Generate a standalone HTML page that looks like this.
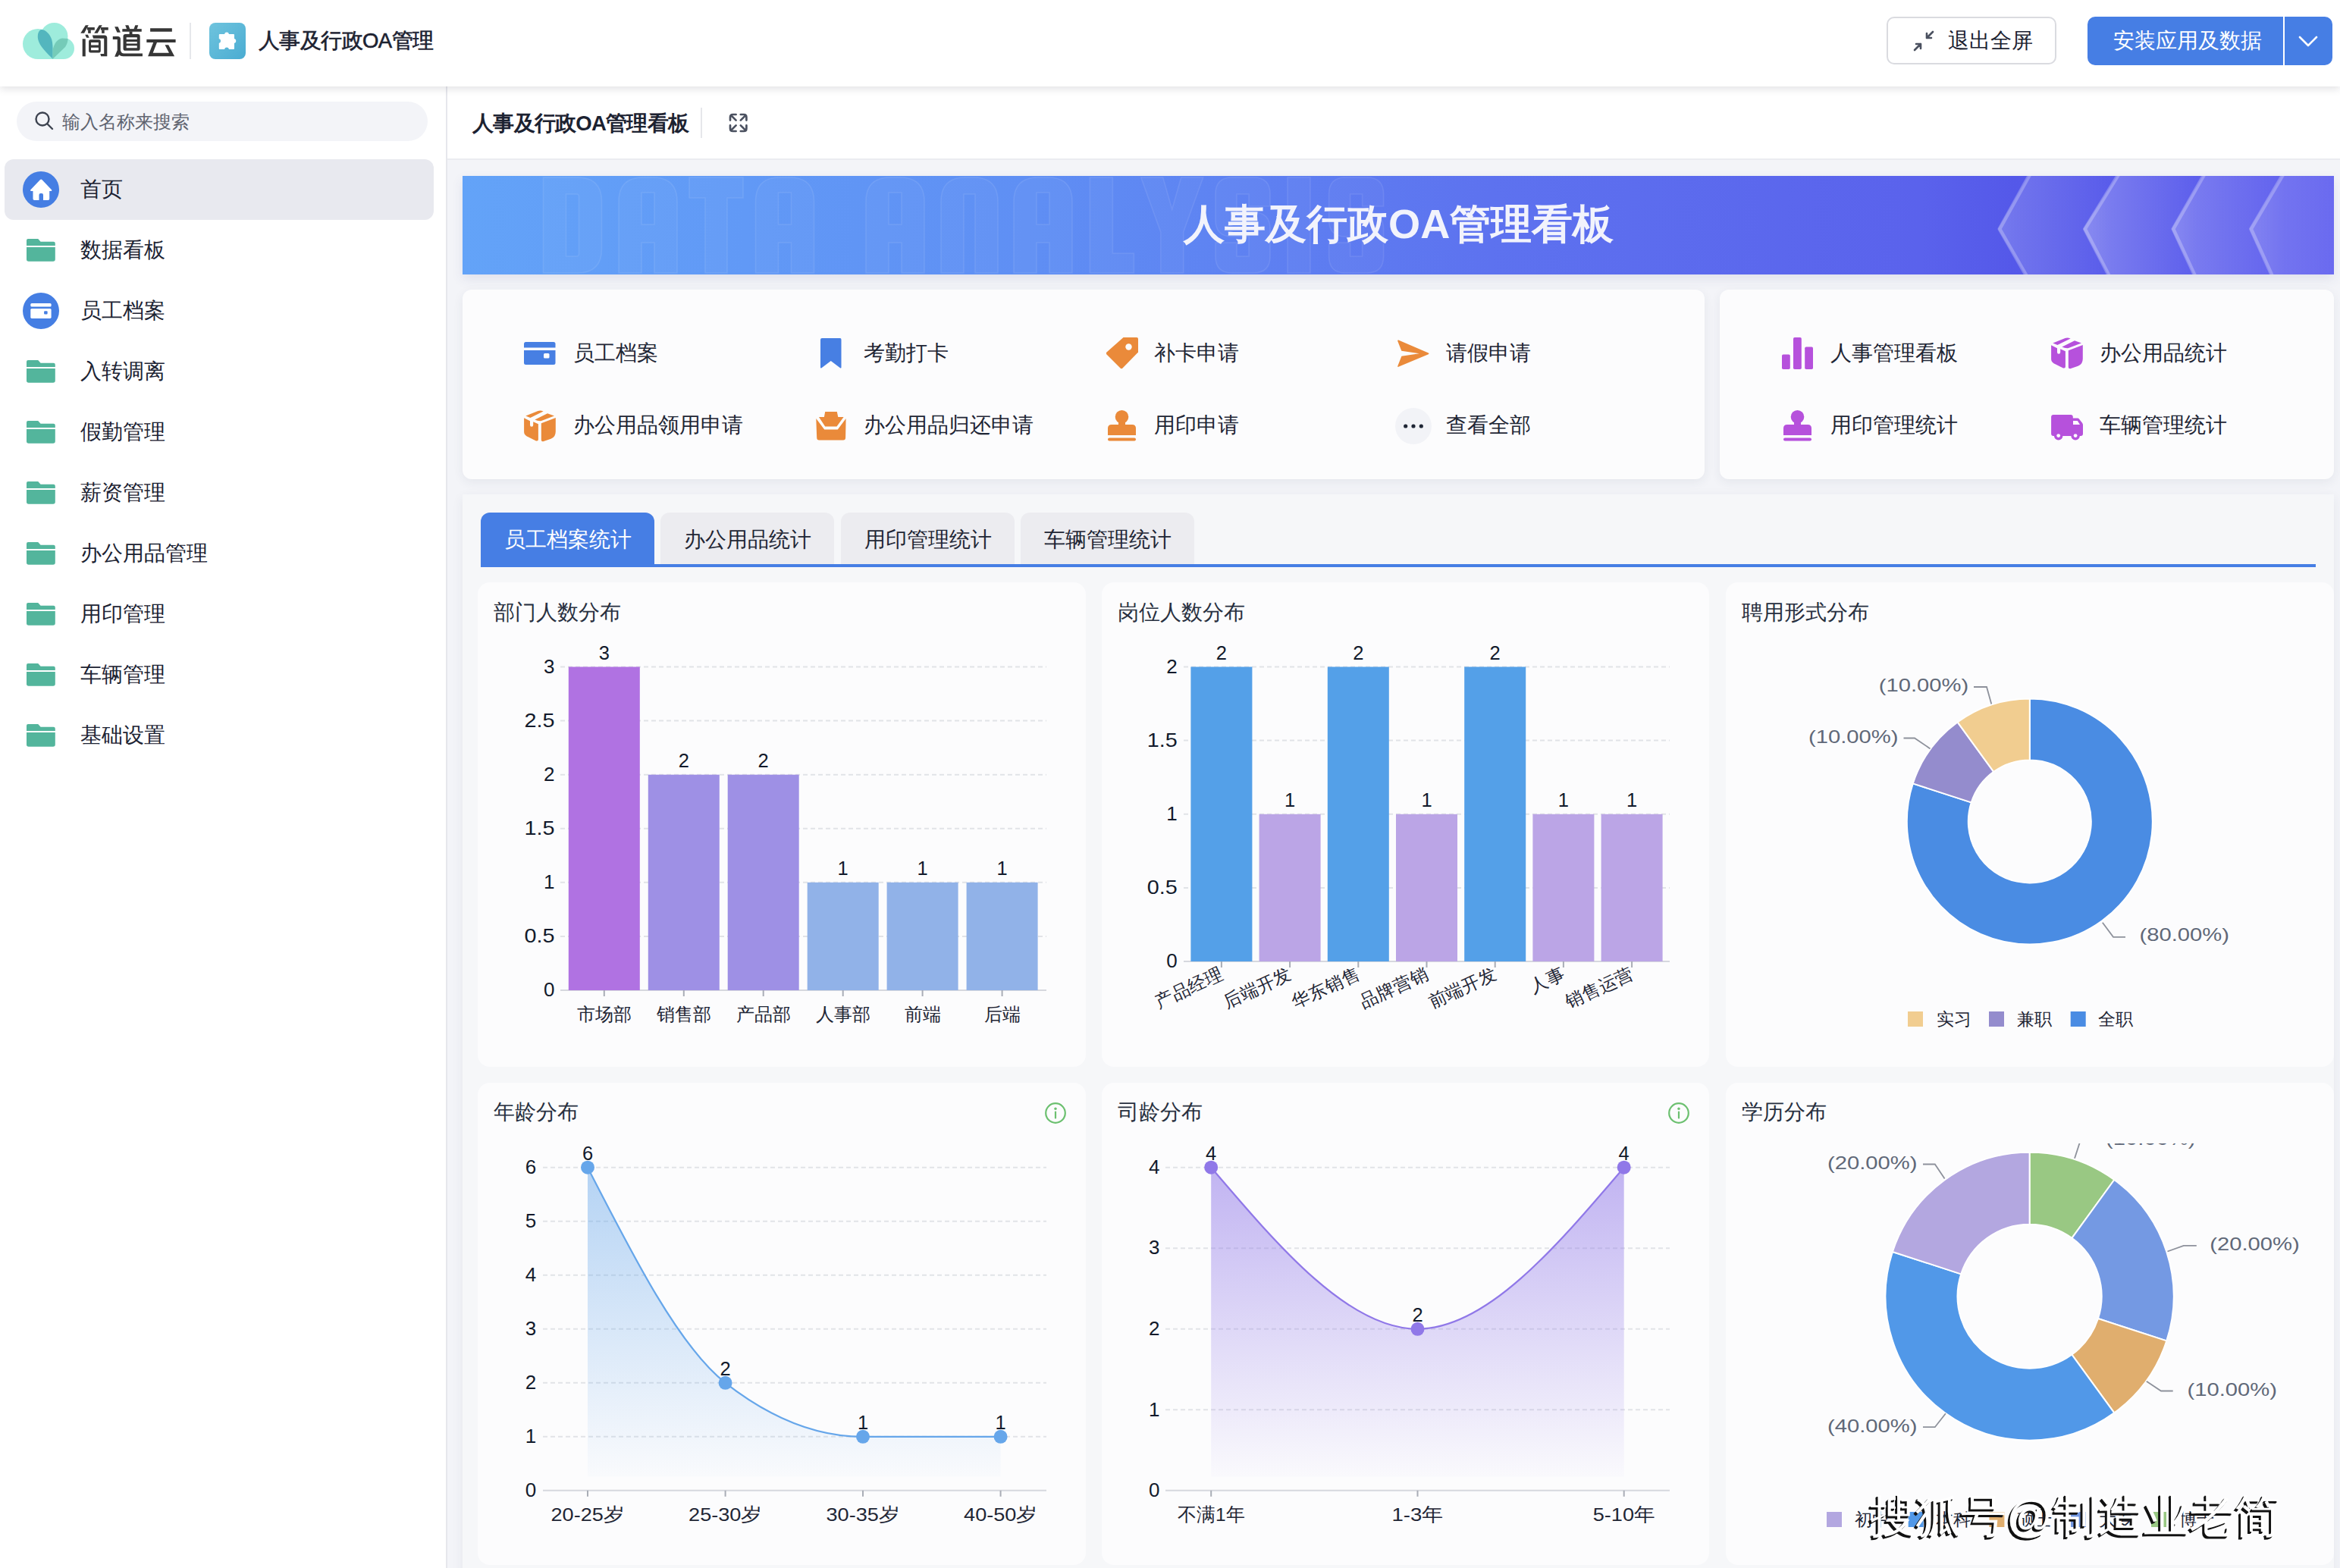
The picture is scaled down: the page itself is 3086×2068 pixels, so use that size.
<!DOCTYPE html>
<html><head><meta charset="utf-8"><title>人事及行政OA管理看板</title>
<style>
*{margin:0;padding:0;box-sizing:border-box}
html,body{width:3086px;height:2068px;overflow:hidden;background:#f3f4f8}
body{font-family:"Liberation Sans",sans-serif;color:#1f2533;position:relative}
.a{position:absolute}
.t{position:absolute;white-space:nowrap;line-height:1}
#hdr{left:0;top:0;width:3086px;height:114px;background:#fff;box-shadow:0 3px 10px rgba(20,25,40,0.13);z-index:5}
#side{left:0;top:114px;width:590px;height:1954px;background:#fff;border-right:2px solid #e6e7ec;z-index:3}
#chdr{left:590px;top:114px;width:2496px;height:97px;background:#fff;border-bottom:2px solid #ebecf0;z-index:2}
.card{position:absolute;background:#fcfcfd;border-radius:12px;box-shadow:0 4px 14px rgba(40,50,90,0.07)}
.ccard{position:absolute;background:#fcfcfd;border-radius:16px}
.qi{position:absolute;font-size:27.5px;color:#1f2635;line-height:1;white-space:nowrap}
.tab{position:absolute;top:676px;height:72px;width:229px;border-radius:12px 12px 0 0;background:#ececf0;font-size:27.5px;color:#1f2635;text-align:center;line-height:72px}
.ct{position:absolute;font-size:27.5px;color:#283040;line-height:1;white-space:nowrap}

svg text{font-family:"Liberation Sans",sans-serif}
</style></head><body>

<div id="hdr" class="a">
  <svg class="a" style="left:30px;top:30px" width="68" height="48" viewBox="30 30 68 48">
    <circle cx="50" cy="58" r="20" fill="#9eecdc"/>
    <circle cx="71.5" cy="48" r="18" fill="#9eecdc"/>
    <circle cx="84" cy="64" r="14" fill="#9eecdc"/>
    <rect x="50" y="60" width="34" height="18" fill="#9eecdc"/>
    <path d="M69.6 77.8 C62 70 52 61 50.2 52 C49 45 51 40 54.5 39 C60 39 66 45 68.2 52 C69.5 57 69.6 62 69.6 66 Z" fill="#53b6be"/>
    <path d="M69.6 77.8 L69.6 66 C71 58 76 51 82 50.6 L89.6 51 C89.5 55 88 59 86 62 Z" fill="#75cbb8"/>
  </svg>
  <svg class="a" style="left:100px;top:25px" width="140" height="60" viewBox="0 0 2340 1003"><g fill="#363636">
<path d="M105 315 L215 140 H280 L185 315Z"/><rect x="250" y="185" width="165" height="60"/><rect x="270" y="240" width="60" height="75"/>
<path d="M405 315 L515 140 H580 L480 315Z"/><rect x="550" y="185" width="165" height="60"/><rect x="570" y="240" width="60" height="75"/>
<rect x="145" y="440" width="68" height="385"/><path d="M205 345 H265 L295 415 H235Z"/>
<path d="M365 358 H630 Q690 358 690 418 V825 H555 L540 770 H622 V430 H385Z"/>
<path fill-rule="evenodd" d="M325 455 H508 Q548 455 548 495 V705 Q548 745 508 745 H325 Q285 745 285 705 V495 Q285 455 325 455Z M335 520 V575 H500 V520Z M335 630 V690 H500 V630Z"/>
<path d="M855 170 H930 L985 295 H910Z"/>
<path d="M1090 140 H1160 L1195 230 H1125Z"/><path d="M1310 140 H1375 L1345 230 H1275Z"/>
<rect x="1025" y="220" width="425" height="60"/><rect x="1180" y="275" width="65" height="70"/>
<path fill-rule="evenodd" d="M1095 335 H1365 Q1415 335 1415 385 V650 Q1415 700 1365 700 H1095 Q1045 700 1045 650 V385 Q1045 335 1095 335Z M1115 405 V450 H1350 V405Z M1115 500 V545 H1350 V500Z M1115 590 V640 H1350 V590Z"/>
<path d="M815 385 H925 Q985 385 985 445 V690 Q1000 760 1060 760 H1470 V825 H1040 Q985 825 955 790 L928 830 H855 L915 690 V450 H815Z"/>
<rect x="1640" y="205" width="480" height="75"/><rect x="1560" y="450" width="640" height="68"/>
<path d="M1710 515 H1790 L1700 750 H2055 L1965 572 H2042 L2175 825 H1590Z"/>
</g></svg>
  <div class="a" style="left:250px;top:30px;width:2px;height:48px;background:#e6e7eb"></div>
  <svg class="a" style="left:276px;top:30px" width="48" height="48" viewBox="0 0 48 48">
    <defs><linearGradient id="gapp" x1="0" y1="0" x2="1" y2="1"><stop offset="0" stop-color="#6fc4de"/><stop offset="1" stop-color="#4aacd2"/></linearGradient></defs>
    <rect width="48" height="48" rx="8" fill="url(#gapp)"/>
    <path d="M13.8 14.9 H20 A3.1 3.1 0 0 1 26 14.9 H32 Q33 14.9 33 15.9 V21 A3.1 3.1 0 0 1 33 27 V33.9 Q33 34.9 32 34.9 H26 A3.1 3.1 0 0 0 20 34.9 H13.8 Q12.8 34.9 12.8 33.9 V27 A3.1 3.1 0 0 0 12.8 21 V15.9 Q12.8 14.9 13.8 14.9Z" fill="#fff"/>
  </svg>
  <div class="t" style="left:341px;top:40px;font-size:27.5px;color:#1c2231;letter-spacing:-0.6px;-webkit-text-stroke:0.6px #1c2231">人事及行政OA管理</div>

  <div class="a" style="left:2488px;top:22px;width:224px;height:63px;border:2px solid #dadbe0;border-radius:10px;background:#fff"></div>
  <svg class="a" style="left:2522px;top:39px" width="30" height="30" viewBox="0 0 30 30" fill="none" stroke="#4b5160" stroke-width="2.6" stroke-linecap="round" stroke-linejoin="round">
    <path d="M3 27 L11 19 M5 19 h6 v6"/><path d="M27 3 L19 11 M19 5 v6 h6"/>
  </svg>
  <div class="t" style="left:2569px;top:40px;font-size:27.5px;color:#1c2231">退出全屏</div>

  <div class="a" style="left:2753px;top:22px;width:323px;height:64px;border-radius:10px;background:#467ee4"></div>
  <div class="a" style="left:3011px;top:22px;width:2px;height:64px;background:#fff"></div>
  <div class="t" style="left:2787px;top:40px;font-size:27.5px;color:#fff">安装应用及数据</div>
  <svg class="a" style="left:3031px;top:46px" width="26" height="18" viewBox="0 0 26 18" fill="none" stroke="#fff" stroke-width="2.6" stroke-linecap="round" stroke-linejoin="round"><path d="M2 3 L13 14 L24 3"/></svg>
</div>

<div id="side" class="a">
  <div class="a" style="left:22px;top:20px;width:542px;height:52px;border-radius:26px;background:#f3f4f8"></div>
  <svg class="a" style="left:45px;top:32px" width="26" height="26" viewBox="0 0 26 26" fill="none" stroke="#3d4350" stroke-width="2.4" stroke-linecap="round"><circle cx="11" cy="11" r="8.5"/><path d="M17.5 17.5 L24 24"/></svg>
  <div class="t" style="left:82px;top:35.5px;font-size:23.5px;color:#5f6470">输入名称来搜索</div>
  <div class="a" style="left:6px;top:96px;width:566px;height:80px;border-radius:12px;background:#e8e9ef"></div>
  <svg class="a" style="left:30px;top:112px" width="48" height="48" viewBox="0 0 48 48"><circle cx="24" cy="24" r="24" fill="#457ee3"/><path d="M22.8 11.2 Q24.2 9.6 25.6 11.2 L38 24.2 Q39 26 37.2 26 H35.2 V36.2 Q35.2 38 33.4 38 H27 V31 Q27 29 25 29 H23.5 Q21.5 29 21.5 31 V38 H15.3 Q13.5 38 13.5 36.2 V26 H11.3 Q9.4 26 10.4 24.2 Z" fill="#fff"/></svg>
<div class="t" style="left:106px;top:122px;font-size:27.5px;color:#1c2333">首页</div>
<svg class="a" style="left:35px;top:201px" width="38" height="31" viewBox="0 0 38 31"><path d="M2 0H15.2L18.6 3.8H35.5a2.3 2.3 0 0 1 2.3 2.3V9.1H0V2a2 2 0 0 1 2-2z" fill="#53b59c"/><path d="M0 11.1H37.8V27a2.8 2.8 0 0 1-2.8 2.8H2.8A2.8 2.8 0 0 1 0 27z" fill="#53b59c"/></svg>
<div class="t" style="left:106px;top:202px;font-size:27.5px;color:#1c2333">数据看板</div>
<svg class="a" style="left:30px;top:272px" width="48" height="48" viewBox="0 0 48 48"><circle cx="24" cy="24" r="24" fill="#457ee3"/><rect x="10.3" y="13.9" width="27.3" height="4.6" rx="1.5" fill="#fff"/><rect x="10.3" y="21" width="27.3" height="12.9" rx="1.6" fill="#fff"/><rect x="28.1" y="24.2" width="4.5" height="4.3" rx="1" fill="#457ee3"/></svg>
<div class="t" style="left:106px;top:282px;font-size:27.5px;color:#1c2333">员工档案</div>
<svg class="a" style="left:35px;top:361px" width="38" height="31" viewBox="0 0 38 31"><path d="M2 0H15.2L18.6 3.8H35.5a2.3 2.3 0 0 1 2.3 2.3V9.1H0V2a2 2 0 0 1 2-2z" fill="#53b59c"/><path d="M0 11.1H37.8V27a2.8 2.8 0 0 1-2.8 2.8H2.8A2.8 2.8 0 0 1 0 27z" fill="#53b59c"/></svg>
<div class="t" style="left:106px;top:362px;font-size:27.5px;color:#1c2333">入转调离</div>
<svg class="a" style="left:35px;top:441px" width="38" height="31" viewBox="0 0 38 31"><path d="M2 0H15.2L18.6 3.8H35.5a2.3 2.3 0 0 1 2.3 2.3V9.1H0V2a2 2 0 0 1 2-2z" fill="#53b59c"/><path d="M0 11.1H37.8V27a2.8 2.8 0 0 1-2.8 2.8H2.8A2.8 2.8 0 0 1 0 27z" fill="#53b59c"/></svg>
<div class="t" style="left:106px;top:442px;font-size:27.5px;color:#1c2333">假勤管理</div>
<svg class="a" style="left:35px;top:521px" width="38" height="31" viewBox="0 0 38 31"><path d="M2 0H15.2L18.6 3.8H35.5a2.3 2.3 0 0 1 2.3 2.3V9.1H0V2a2 2 0 0 1 2-2z" fill="#53b59c"/><path d="M0 11.1H37.8V27a2.8 2.8 0 0 1-2.8 2.8H2.8A2.8 2.8 0 0 1 0 27z" fill="#53b59c"/></svg>
<div class="t" style="left:106px;top:522px;font-size:27.5px;color:#1c2333">薪资管理</div>
<svg class="a" style="left:35px;top:601px" width="38" height="31" viewBox="0 0 38 31"><path d="M2 0H15.2L18.6 3.8H35.5a2.3 2.3 0 0 1 2.3 2.3V9.1H0V2a2 2 0 0 1 2-2z" fill="#53b59c"/><path d="M0 11.1H37.8V27a2.8 2.8 0 0 1-2.8 2.8H2.8A2.8 2.8 0 0 1 0 27z" fill="#53b59c"/></svg>
<div class="t" style="left:106px;top:602px;font-size:27.5px;color:#1c2333">办公用品管理</div>
<svg class="a" style="left:35px;top:681px" width="38" height="31" viewBox="0 0 38 31"><path d="M2 0H15.2L18.6 3.8H35.5a2.3 2.3 0 0 1 2.3 2.3V9.1H0V2a2 2 0 0 1 2-2z" fill="#53b59c"/><path d="M0 11.1H37.8V27a2.8 2.8 0 0 1-2.8 2.8H2.8A2.8 2.8 0 0 1 0 27z" fill="#53b59c"/></svg>
<div class="t" style="left:106px;top:682px;font-size:27.5px;color:#1c2333">用印管理</div>
<svg class="a" style="left:35px;top:761px" width="38" height="31" viewBox="0 0 38 31"><path d="M2 0H15.2L18.6 3.8H35.5a2.3 2.3 0 0 1 2.3 2.3V9.1H0V2a2 2 0 0 1 2-2z" fill="#53b59c"/><path d="M0 11.1H37.8V27a2.8 2.8 0 0 1-2.8 2.8H2.8A2.8 2.8 0 0 1 0 27z" fill="#53b59c"/></svg>
<div class="t" style="left:106px;top:762px;font-size:27.5px;color:#1c2333">车辆管理</div>
<svg class="a" style="left:35px;top:841px" width="38" height="31" viewBox="0 0 38 31"><path d="M2 0H15.2L18.6 3.8H35.5a2.3 2.3 0 0 1 2.3 2.3V9.1H0V2a2 2 0 0 1 2-2z" fill="#53b59c"/><path d="M0 11.1H37.8V27a2.8 2.8 0 0 1-2.8 2.8H2.8A2.8 2.8 0 0 1 0 27z" fill="#53b59c"/></svg>
<div class="t" style="left:106px;top:842px;font-size:27.5px;color:#1c2333">基础设置</div>
</div>

<div id="chdr" class="a">
  <div class="t" style="left:33px;top:35px;font-size:27.5px;font-weight:bold;color:#1c2231;letter-spacing:-0.75px">人事及行政OA管理看板</div>
  <div class="a" style="left:334px;top:28px;width:2px;height:40px;background:#e6e7eb"></div>
  <svg class="a" style="left:368px;top:32px" width="32" height="32" viewBox="958 146 32 32" fill="none" stroke="#4b5160" stroke-width="2.7" stroke-linecap="round" stroke-linejoin="round">
    <path d="M963 158.6 V154.5 Q963 151 966.5 151 H970.6 M964.6 152.6 L970.6 158.6"/><path d="M976.8 151 H980.9 Q984.4 151 984.4 154.5 V158.6 M982.8 152.6 L976.8 158.6"/><path d="M963 165.4 V169.5 Q963 173 966.5 173 H970.6 M964.6 171.4 L970.6 165.4"/><path d="M984.4 165.4 V169.5 Q984.4 173 980.9 173 H976.8 M982.8 171.4 L976.8 165.4"/>
  </svg>
</div>


<div class="a" style="left:610px;top:232px;width:2468px;height:130px;box-shadow:0 6px 14px rgba(60,70,140,0.10);background:#5c7cf0"></div>
<svg class="a" style="left:610px;top:232px" width="2468" height="130" viewBox="610 232 2468 130">
<defs>
<linearGradient id="bg1" x1="610" y1="0" x2="3078" y2="0" gradientUnits="userSpaceOnUse">
<stop offset="0" stop-color="#63a3f8"/><stop offset="0.3" stop-color="#5f8ff4"/><stop offset="0.55" stop-color="#5d72ef"/><stop offset="0.78" stop-color="#5a62ec"/><stop offset="0.83" stop-color="#5458e9"/><stop offset="1" stop-color="#6464ef"/></linearGradient>
<linearGradient id="cg0" x1="2635" y1="0" x2="2785" y2="0" gradientUnits="userSpaceOnUse"><stop offset="0" stop-color="#fff" stop-opacity="0.20"/><stop offset="1" stop-color="#fff" stop-opacity="0"/></linearGradient><linearGradient id="cg1" x1="2747.5" y1="0" x2="2897.5" y2="0" gradientUnits="userSpaceOnUse"><stop offset="0" stop-color="#fff" stop-opacity="0.26"/><stop offset="1" stop-color="#fff" stop-opacity="0"/></linearGradient><linearGradient id="cg2" x1="2864" y1="0" x2="3014" y2="0" gradientUnits="userSpaceOnUse"><stop offset="0" stop-color="#fff" stop-opacity="0.22"/><stop offset="1" stop-color="#fff" stop-opacity="0"/></linearGradient><linearGradient id="cg3" x1="2966.6" y1="0" x2="3116.6" y2="0" gradientUnits="userSpaceOnUse"><stop offset="0" stop-color="#fff" stop-opacity="0.16"/><stop offset="1" stop-color="#fff" stop-opacity="0"/></linearGradient>
<clipPath id="bclip"><rect x="610" y="232" width="2468" height="130"/></clipPath>
</defs>
<rect x="610" y="232" width="2468" height="130" fill="url(#bg1)"/>
<g clip-path="url(#bclip)">
<path transform="translate(716.5,234)" d="M0 0H45Q77 0 77 32V94Q77 126 45 126H0Z M30 22V104H44Q47 104 47 101V25Q47 22 44 22Z" fill="#fff" fill-opacity="0.035" fill-rule="evenodd" stroke="#fff" stroke-opacity="0.09" stroke-width="1.6"/><path transform="translate(816,234)" d="M0 126V32Q0 0 32 0H45Q77 0 77 32V126H47V86H30V126Z M30 20V62H47V20Z" fill="#fff" fill-opacity="0.035" fill-rule="evenodd" stroke="#fff" stroke-opacity="0.09" stroke-width="1.6"/><path transform="translate(909,234)" d="M0 0H71V27H50V126H21V27H0Z" fill="#fff" fill-opacity="0.035" fill-rule="evenodd" stroke="#fff" stroke-opacity="0.09" stroke-width="1.6"/><path transform="translate(996.5,234)" d="M0 126V32Q0 0 32 0H45Q77 0 77 32V126H47V86H30V126Z M30 20V62H47V20Z" fill="#fff" fill-opacity="0.035" fill-rule="evenodd" stroke="#fff" stroke-opacity="0.09" stroke-width="1.6"/><path transform="translate(1142,234)" d="M0 126V32Q0 0 32 0H45Q77 0 77 32V126H47V86H30V126Z M30 20V62H47V20Z" fill="#fff" fill-opacity="0.035" fill-rule="evenodd" stroke="#fff" stroke-opacity="0.09" stroke-width="1.6"/><path transform="translate(1241,234)" d="M0 126V32Q0 0 32 0H43Q75 0 75 32V126H45V22H30V126Z" fill="#fff" fill-opacity="0.035" fill-rule="evenodd" stroke="#fff" stroke-opacity="0.09" stroke-width="1.6"/><path transform="translate(1337,234)" d="M0 126V32Q0 0 32 0H45Q77 0 77 32V126H47V86H30V126Z M30 20V62H47V20Z" fill="#fff" fill-opacity="0.035" fill-rule="evenodd" stroke="#fff" stroke-opacity="0.09" stroke-width="1.6"/><path transform="translate(1437.4,234)" d="M0 0H30V100H58V126H0Z" fill="#fff" fill-opacity="0.035" fill-rule="evenodd" stroke="#fff" stroke-opacity="0.09" stroke-width="1.6"/><path transform="translate(1504.7,234)" d="M0 0H29L41 42L53 0H82L56 72V126H26V72Z" fill="#fff" fill-opacity="0.035" fill-rule="evenodd" stroke="#fff" stroke-opacity="0.09" stroke-width="1.6"/><path transform="translate(1603,234)" d="M22 0H50Q72 0 72 22V38H44V22H28V46H50Q72 46 72 68V104Q72 126 50 126H22Q0 126 0 104V86H28V104H44V78H22Q0 78 0 56V22Q0 0 22 0Z" fill="#fff" fill-opacity="0.035" fill-rule="evenodd" stroke="#fff" stroke-opacity="0.09" stroke-width="1.6"/><path transform="translate(1698,234)" d="M0 0H30V126H0Z" fill="#fff" fill-opacity="0.035" fill-rule="evenodd" stroke="#fff" stroke-opacity="0.09" stroke-width="1.6"/><path transform="translate(1752.6,234)" d="M22 0H50Q72 0 72 22V38H44V22H28V46H50Q72 46 72 68V104Q72 126 50 126H22Q0 126 0 104V86H28V104H44V78H22Q0 78 0 56V22Q0 0 22 0Z" fill="#fff" fill-opacity="0.035" fill-rule="evenodd" stroke="#fff" stroke-opacity="0.09" stroke-width="1.6"/>
<path d="M2675 232 L2635 302 L2670.6 362 L2830.6 362 L2795 302 L2835 232Z" fill="url(#cg0)"/><path d="M2677 230 L2637 302 L2672.6 364" stroke="#fff" stroke-opacity="0.25" stroke-width="5" fill="none" stroke-linejoin="round"/><path d="M2792 232 L2747.5 302 L2779.6 362 L2939.6 362 L2907.5 302 L2952 232Z" fill="url(#cg1)"/><path d="M2794 230 L2749.5 302 L2781.6 364" stroke="#fff" stroke-opacity="0.25" stroke-width="5" fill="none" stroke-linejoin="round"/><path d="M2905 232 L2864 302 L2892.8 362 L3052.8 362 L3024 302 L3065 232Z" fill="url(#cg2)"/><path d="M2907 230 L2866 302 L2894.8 364" stroke="#fff" stroke-opacity="0.25" stroke-width="5" fill="none" stroke-linejoin="round"/><path d="M3009 232 L2966.6 302 L2994.6 362 L3154.6 362 L3126.6 302 L3169 232Z" fill="url(#cg3)"/><path d="M3011 230 L2968.6 302 L2996.6 364" stroke="#fff" stroke-opacity="0.25" stroke-width="5" fill="none" stroke-linejoin="round"/>
</g>
</svg>
<div class="t" style="left:1561px;top:268px;font-size:54.2px;font-weight:bold;color:#f2f3fc">人事及行政OA管理看板</div>

<div class="card" style="left:610px;top:382px;width:1638px;height:250px"></div>
<div class="card" style="left:2268px;top:382px;width:810px;height:250px"></div>
<svg class="a" style="left:691px;top:451px" width="42" height="30" viewBox="0 0 42 30"><path d="M0 2.5 Q0 0 2.5 0 H39 Q41.5 0 41.5 2.5 V7.5 H0Z" fill="#477fe3"/><path d="M0 11 H41.5 V27.5 Q41.5 30 39 30 H2.5 Q0 30 0 27.5Z" fill="#477fe3"/><rect x="26" y="15" width="7.5" height="6.5" rx="1.5" fill="#fcfcfd"/></svg>
<svg class="a" style="left:1082px;top:446px" width="28" height="40" viewBox="0 0 28 40"><path d="M2 0 H26 Q27.5 0 27.5 2 V38.5 Q27.5 40 26 39.2 L13.75 30 L1.5 39.2 Q0 40 0 38.5 V2 Q0 0 2 0Z" fill="#477fe3"/></svg>
<svg class="a" style="left:1458px;top:445px" width="44" height="43" viewBox="0 0 44 43"><path d="M23.5 0 H41 Q43 0 43 2 V19.5 L22.5 40.5 Q21 42 19.5 40.5 L1.5 22.5 Q0 21 1.5 19.5Z" fill="#ea8a3a"/><circle cx="30.5" cy="12.5" r="4.2" fill="#fcfcfd"/></svg>
<svg class="a" style="left:1836px;top:442px" width="56" height="50" viewBox="0 0 56 50"><path d="M8.3 6.6 L47.8 23.6 Q49.5 24.4 47.8 25.2 L8.3 41.8 Q6.8 42.4 7.3 40.8 L12.4 27.7 L35.7 24.2 L12.3 20.7 L7.3 8 Q6.8 6 8.3 6.6Z" fill="#ea8a3a"/></svg>
<svg class="a" style="left:685.9px;top:535.7px" width="52" height="50" viewBox="0 0 52 50">
<path d="M7.3 12.4 L23.5 5.9 Q27 5 30.6 6.4 L13.4 15Z" fill="#ea8a3a"/>
<path d="M19.4 17.4 L36 9.2 L45 12.6 L28 19.1 Q23 19.5 19.4 17.4Z" fill="#ea8a3a"/>
<path d="M5.1 15.3 L13 19.2 V24.5 Q13 26.8 15.1 26.8 Q17.2 26.8 17.2 24.5 V20.2 L23.9 23.3 V43.5 Q23.9 46.2 21 45.4 L8.5 39.2 Q5.1 37.2 5.1 33.5Z" fill="#ea8a3a"/>
<path d="M27.8 22.3 L46.8 15 V33 Q46.8 40.5 40.5 42.8 L31 46 Q27.8 46.8 27.8 44Z" fill="#ea8a3a"/>
</svg>
<svg class="a" style="left:1070px;top:536px" width="52" height="50" viewBox="0 0 52 50"><path d="M18.2 7.1 H33.8 L35.3 13.9 H42.6 L33.5 26.5 H18.2 L10 13.9 H16.9Z" fill="#ea8a3a"/><path d="M6.3 15.9 L17.2 30.5 H34.8 L45.6 15.9 L45.1 41.2 Q45 44.4 42 44.4 H10.2 Q7.3 44.4 7.2 41.2Z" fill="#ea8a3a"/></svg>
<svg class="a" style="left:1461px;top:541px" width="38" height="41" viewBox="0 0 38 41">
<circle cx="18.5" cy="8.8" r="8.8" fill="#ea8a3a"/><rect x="14" y="12" width="9" height="9" fill="#ea8a3a"/>
<path d="M0 24 Q0 19 5 19 H32 Q37 19 37 24 V33 H0Z" fill="#ea8a3a"/>
<rect x="0" y="36.5" width="37" height="4" rx="2" fill="#ea8a3a"/></svg>
<svg class="a" style="left:1840px;top:538px" width="48" height="48" viewBox="0 0 48 48"><circle cx="24" cy="24" r="24" fill="#f2f3f7"/><circle cx="13.7" cy="24" r="2.6" fill="#1f2635"/><circle cx="24" cy="24" r="2.6" fill="#1f2635"/><circle cx="34.3" cy="24" r="2.6" fill="#1f2635"/></svg>
<svg class="a" style="left:2349px;top:445px" width="42" height="42" viewBox="0 0 42 42"><rect x="1" y="22.5" width="10.8" height="19.5" rx="1.8" fill="#b651dc"/><rect x="16" y="0" width="10.8" height="42" rx="1.8" fill="#b651dc"/><rect x="31.2" y="12.5" width="10.8" height="29.5" rx="1.8" fill="#b651dc"/></svg>
<svg class="a" style="left:2700.0px;top:440.0px" width="52" height="50" viewBox="0 0 52 50">
<path d="M7.3 12.4 L23.5 5.9 Q27 5 30.6 6.4 L13.4 15Z" fill="#b651dc"/>
<path d="M19.4 17.4 L36 9.2 L45 12.6 L28 19.1 Q23 19.5 19.4 17.4Z" fill="#b651dc"/>
<path d="M5.1 15.3 L13 19.2 V24.5 Q13 26.8 15.1 26.8 Q17.2 26.8 17.2 24.5 V20.2 L23.9 23.3 V43.5 Q23.9 46.2 21 45.4 L8.5 39.2 Q5.1 37.2 5.1 33.5Z" fill="#b651dc"/>
<path d="M27.8 22.3 L46.8 15 V33 Q46.8 40.5 40.5 42.8 L31 46 Q27.8 46.8 27.8 44Z" fill="#b651dc"/>
</svg>
<svg class="a" style="left:2352px;top:541px" width="38" height="41" viewBox="0 0 38 41">
<circle cx="18.5" cy="8.8" r="8.8" fill="#b651dc"/><rect x="14" y="12" width="9" height="9" fill="#b651dc"/>
<path d="M0 24 Q0 19 5 19 H32 Q37 19 37 24 V33 H0Z" fill="#b651dc"/>
<rect x="0" y="36.5" width="37" height="4" rx="2" fill="#b651dc"/></svg>
<svg class="a" style="left:2700px;top:540px" width="52" height="44" viewBox="0 0 52 44"><path d="M8.1 7 H30.8 Q33.8 7 33.8 10 V11.5 H40 Q41.2 11.5 41.9 12.5 L46.2 18 Q47 19 47 20.5 V32 Q47 35 44 35 H8.1 Q5.1 35 5.1 32 V10 Q5.1 7 8.1 7Z" fill="#b651dc"/><path d="M34 15 H39.8 L43 19.9 H34Z" fill="#fcfcfd"/><circle cx="14.7" cy="34.6" r="5.8" fill="#b651dc"/><circle cx="14.7" cy="34.6" r="2.4" fill="#fcfcfd"/><circle cx="37.1" cy="34.6" r="5.8" fill="#b651dc"/><circle cx="37.1" cy="34.6" r="2.4" fill="#fcfcfd"/></svg>
<div class="qi" style="left:755.5px;top:452px">员工档案</div>
<div class="qi" style="left:1138.5px;top:452px">考勤打卡</div>
<div class="qi" style="left:1522px;top:452px">补卡申请</div>
<div class="qi" style="left:1906.5px;top:452px">请假申请</div>
<div class="qi" style="left:755.5px;top:547px">办公用品领用申请</div>
<div class="qi" style="left:1138.5px;top:547px">办公用品归还申请</div>
<div class="qi" style="left:1522px;top:547px">用印申请</div>
<div class="qi" style="left:1906.5px;top:547px">查看全部</div>
<div class="qi" style="left:2413.5px;top:452px">人事管理看板</div>
<div class="qi" style="left:2768.5px;top:452px">办公用品统计</div>
<div class="qi" style="left:2413.5px;top:547px">用印管理统计</div>
<div class="qi" style="left:2768.5px;top:547px">车辆管理统计</div>
<div class="a" style="left:610px;top:652px;width:2468px;height:1430px;background:#f6f7f9;box-shadow:0 4px 14px rgba(40,50,90,0.07)"></div>
<div class="tab" style="left:634px;background:#467ee4;color:#fff">员工档案统计</div>
<div class="tab" style="left:871px">办公用品统计</div>
<div class="tab" style="left:1109px">用印管理统计</div>
<div class="tab" style="left:1346px">车辆管理统计</div>
<div class="a" style="left:634px;top:744px;width:2420px;height:4px;background:#467ee4"></div>
<div class="ccard" style="left:630px;top:768px;width:802px;height:639px"></div>
<div class="ccard" style="left:630px;top:1428px;width:802px;height:636px"></div>
<div class="ccard" style="left:1453px;top:768px;width:801px;height:639px"></div>
<div class="ccard" style="left:1453px;top:1428px;width:801px;height:636px"></div>
<div class="ccard" style="left:2276px;top:768px;width:802px;height:639px"></div>
<div class="ccard" style="left:2276px;top:1428px;width:802px;height:636px"></div>
<div class="ct" style="left:651px;top:794px">部门人数分布</div>
<div class="ct" style="left:1474px;top:794px">岗位人数分布</div>
<div class="ct" style="left:2297px;top:794px">聘用形式分布</div>
<div class="ct" style="left:651px;top:1453px">年龄分布</div>
<div class="ct" style="left:1474px;top:1453px">司龄分布</div>
<div class="ct" style="left:2297px;top:1453px">学历分布</div>
<svg class="a" style="left:1377px;top:1453px" width="30" height="30" viewBox="0 0 30 30"><circle cx="15" cy="15" r="12.8" fill="none" stroke="#6cc070" stroke-width="2.2"/><circle cx="15" cy="9.3" r="1.7" fill="#6cc070"/><rect x="13.9" y="12.6" width="2.2" height="9.8" rx="1" fill="#6cc070"/></svg>
<svg class="a" style="left:2199px;top:1453px" width="30" height="30" viewBox="0 0 30 30"><circle cx="15" cy="15" r="12.8" fill="none" stroke="#6cc070" stroke-width="2.2"/><circle cx="15" cy="9.3" r="1.7" fill="#6cc070"/><rect x="13.9" y="12.6" width="2.2" height="9.8" rx="1" fill="#6cc070"/></svg>
<svg class="a" style="left:630px;top:768px" width="802" height="639" viewBox="630 768 802 639"><line x1="739" y1="879.5" x2="1380" y2="879.5" stroke="#e1e3e7" stroke-width="2" stroke-dasharray="6 4"/><line x1="739" y1="950.6" x2="1380" y2="950.6" stroke="#e1e3e7" stroke-width="2" stroke-dasharray="6 4"/><line x1="739" y1="1021.7" x2="1380" y2="1021.7" stroke="#e1e3e7" stroke-width="2" stroke-dasharray="6 4"/><line x1="739" y1="1092.8" x2="1380" y2="1092.8" stroke="#e1e3e7" stroke-width="2" stroke-dasharray="6 4"/><line x1="739" y1="1163.8" x2="1380" y2="1163.8" stroke="#e1e3e7" stroke-width="2" stroke-dasharray="6 4"/><line x1="739" y1="1234.9" x2="1380" y2="1234.9" stroke="#e1e3e7" stroke-width="2" stroke-dasharray="6 4"/><line x1="739" y1="1306" x2="1380" y2="1306" stroke="#d6d8de" stroke-width="2"/><line x1="796.8" y1="1306" x2="796.8" y2="1314" stroke="#a9adb6" stroke-width="2"/><line x1="901.8" y1="1306" x2="901.8" y2="1314" stroke="#a9adb6" stroke-width="2"/><line x1="1006.7" y1="1306" x2="1006.7" y2="1314" stroke="#a9adb6" stroke-width="2"/><line x1="1111.7" y1="1306" x2="1111.7" y2="1314" stroke="#a9adb6" stroke-width="2"/><line x1="1216.6" y1="1306" x2="1216.6" y2="1314" stroke="#a9adb6" stroke-width="2"/><line x1="1321.6" y1="1306" x2="1321.6" y2="1314" stroke="#a9adb6" stroke-width="2"/><text x="731.5" y="887.7" text-anchor="end" font-family="Liberation Sans" font-size="26" fill="#121a2b">3</text><text x="731.5" y="958.8" text-anchor="end" font-family="Liberation Sans" font-size="26" fill="#121a2b" textLength="40" lengthAdjust="spacingAndGlyphs">2.5</text><text x="731.5" y="1029.9" text-anchor="end" font-family="Liberation Sans" font-size="26" fill="#121a2b">2</text><text x="731.5" y="1101.0" text-anchor="end" font-family="Liberation Sans" font-size="26" fill="#121a2b" textLength="40" lengthAdjust="spacingAndGlyphs">1.5</text><text x="731.5" y="1172.0" text-anchor="end" font-family="Liberation Sans" font-size="26" fill="#121a2b">1</text><text x="731.5" y="1243.1" text-anchor="end" font-family="Liberation Sans" font-size="26" fill="#121a2b" textLength="40" lengthAdjust="spacingAndGlyphs">0.5</text><text x="731.5" y="1314.2" text-anchor="end" font-family="Liberation Sans" font-size="26" fill="#121a2b">0</text><rect x="749.8" y="879.5" width="94" height="426.5" fill="#b072e2"/><text x="796.8" y="869.5" text-anchor="middle" font-family="Liberation Sans" font-size="25.5" fill="#121a2b">3</text><text x="796.8" y="1346.0" text-anchor="middle" font-size="23.5" fill="#1f2635" >市场部</text><rect x="854.8" y="1021.7" width="94" height="284.3" fill="#9e90e5"/><text x="901.8" y="1011.7" text-anchor="middle" font-family="Liberation Sans" font-size="25.5" fill="#121a2b">2</text><text x="901.8" y="1346.0" text-anchor="middle" font-size="23.5" fill="#1f2635" >销售部</text><rect x="959.7" y="1021.7" width="94" height="284.3" fill="#9e90e5"/><text x="1006.7" y="1011.7" text-anchor="middle" font-family="Liberation Sans" font-size="25.5" fill="#121a2b">2</text><text x="1006.7" y="1346.0" text-anchor="middle" font-size="23.5" fill="#1f2635" >产品部</text><rect x="1064.7" y="1163.8" width="94" height="142.2" fill="#91b2e8"/><text x="1111.7" y="1153.8" text-anchor="middle" font-family="Liberation Sans" font-size="25.5" fill="#121a2b">1</text><text x="1111.7" y="1346.0" text-anchor="middle" font-size="23.5" fill="#1f2635" >人事部</text><rect x="1169.6" y="1163.8" width="94" height="142.2" fill="#91b2e8"/><text x="1216.6" y="1153.8" text-anchor="middle" font-family="Liberation Sans" font-size="25.5" fill="#121a2b">1</text><text x="1216.6" y="1346.0" text-anchor="middle" font-size="23.5" fill="#1f2635" >前端</text><rect x="1274.6" y="1163.8" width="94" height="142.2" fill="#91b2e8"/><text x="1321.6" y="1153.8" text-anchor="middle" font-family="Liberation Sans" font-size="25.5" fill="#121a2b">1</text><text x="1321.6" y="1346.0" text-anchor="middle" font-size="23.5" fill="#1f2635" >后端</text></svg>
<svg class="a" style="left:1453px;top:768px" width="801" height="639" viewBox="1453 768 801 639"><line x1="1561" y1="879.5" x2="2202" y2="879.5" stroke="#e1e3e7" stroke-width="2" stroke-dasharray="6 4"/><line x1="1561" y1="976.6" x2="2202" y2="976.6" stroke="#e1e3e7" stroke-width="2" stroke-dasharray="6 4"/><line x1="1561" y1="1073.8" x2="2202" y2="1073.8" stroke="#e1e3e7" stroke-width="2" stroke-dasharray="6 4"/><line x1="1561" y1="1170.9" x2="2202" y2="1170.9" stroke="#e1e3e7" stroke-width="2" stroke-dasharray="6 4"/><line x1="1561" y1="1268" x2="2202" y2="1268" stroke="#d6d8de" stroke-width="2"/><line x1="1610.9" y1="1268" x2="1610.9" y2="1276" stroke="#a9adb6" stroke-width="2"/><line x1="1701.1" y1="1268" x2="1701.1" y2="1276" stroke="#a9adb6" stroke-width="2"/><line x1="1791.3" y1="1268" x2="1791.3" y2="1276" stroke="#a9adb6" stroke-width="2"/><line x1="1881.5" y1="1268" x2="1881.5" y2="1276" stroke="#a9adb6" stroke-width="2"/><line x1="1971.7" y1="1268" x2="1971.7" y2="1276" stroke="#a9adb6" stroke-width="2"/><line x1="2061.9" y1="1268" x2="2061.9" y2="1276" stroke="#a9adb6" stroke-width="2"/><line x1="2152.1" y1="1268" x2="2152.1" y2="1276" stroke="#a9adb6" stroke-width="2"/><text x="1552.8" y="887.7" text-anchor="end" font-family="Liberation Sans" font-size="26" fill="#121a2b">2</text><text x="1552.8" y="984.8" text-anchor="end" font-family="Liberation Sans" font-size="26" fill="#121a2b" textLength="40" lengthAdjust="spacingAndGlyphs">1.5</text><text x="1552.8" y="1082.0" text-anchor="end" font-family="Liberation Sans" font-size="26" fill="#121a2b">1</text><text x="1552.8" y="1179.1" text-anchor="end" font-family="Liberation Sans" font-size="26" fill="#121a2b" textLength="40" lengthAdjust="spacingAndGlyphs">0.5</text><text x="1552.8" y="1276.2" text-anchor="end" font-family="Liberation Sans" font-size="26" fill="#121a2b">0</text><rect x="1570.4" y="879.5" width="81" height="388.5" fill="#54a0e8"/><text x="1610.9" y="869.5" text-anchor="middle" font-family="Liberation Sans" font-size="25.5" fill="#121a2b">2</text><text x="0" y="0" text-anchor="end" font-size="23.5" fill="#1f2635" transform="translate(1614.9,1289.5) rotate(-25)">产品经理</text><rect x="1660.6" y="1073.8" width="81" height="194.2" fill="#bba5e6"/><text x="1701.1" y="1063.8" text-anchor="middle" font-family="Liberation Sans" font-size="25.5" fill="#121a2b">1</text><text x="0" y="0" text-anchor="end" font-size="23.5" fill="#1f2635" transform="translate(1705.1,1289.5) rotate(-25)">后端开发</text><rect x="1750.8" y="879.5" width="81" height="388.5" fill="#54a0e8"/><text x="1791.3" y="869.5" text-anchor="middle" font-family="Liberation Sans" font-size="25.5" fill="#121a2b">2</text><text x="0" y="0" text-anchor="end" font-size="23.5" fill="#1f2635" transform="translate(1795.3,1289.5) rotate(-25)">华东销售</text><rect x="1841.0" y="1073.8" width="81" height="194.2" fill="#bba5e6"/><text x="1881.5" y="1063.8" text-anchor="middle" font-family="Liberation Sans" font-size="25.5" fill="#121a2b">1</text><text x="0" y="0" text-anchor="end" font-size="23.5" fill="#1f2635" transform="translate(1885.5,1289.5) rotate(-25)">品牌营销</text><rect x="1931.2" y="879.5" width="81" height="388.5" fill="#54a0e8"/><text x="1971.7" y="869.5" text-anchor="middle" font-family="Liberation Sans" font-size="25.5" fill="#121a2b">2</text><text x="0" y="0" text-anchor="end" font-size="23.5" fill="#1f2635" transform="translate(1975.7,1289.5) rotate(-25)">前端开发</text><rect x="2021.4" y="1073.8" width="81" height="194.2" fill="#bba5e6"/><text x="2061.9" y="1063.8" text-anchor="middle" font-family="Liberation Sans" font-size="25.5" fill="#121a2b">1</text><text x="0" y="0" text-anchor="end" font-size="23.5" fill="#1f2635" transform="translate(2065.9,1289.5) rotate(-25)">人事</text><rect x="2111.6" y="1073.8" width="81" height="194.2" fill="#bba5e6"/><text x="2152.1" y="1063.8" text-anchor="middle" font-family="Liberation Sans" font-size="25.5" fill="#121a2b">1</text><text x="0" y="0" text-anchor="end" font-size="23.5" fill="#1f2635" transform="translate(2156.1,1289.5) rotate(-25)">销售运营</text></svg>
<svg class="a" style="left:2276px;top:768px" width="802" height="639" viewBox="2276 768 802 639"><path d="M2676.80 921.40 A162 162 0 1 1 2522.73 1033.34 L2599.76 1058.37 A81 81 0 1 0 2676.80 1002.40Z" fill="#4a8ce3" stroke="#fff" stroke-width="2" stroke-linejoin="round"/><path d="M2522.73 1033.34 A162 162 0 0 1 2581.58 952.34 L2629.19 1017.87 A81 81 0 0 0 2599.76 1058.37Z" fill="#948ccd" stroke="#fff" stroke-width="2" stroke-linejoin="round"/><path d="M2581.58 952.34 A162 162 0 0 1 2676.80 921.40 L2676.80 1002.40 A81 81 0 0 0 2629.19 1017.87Z" fill="#f1cd90" stroke="#fff" stroke-width="2" stroke-linejoin="round"/><polyline points="2603.0,906.0 2620.0,906.0 2626.3,928.4" fill="none" stroke="#8d919b" stroke-width="1.8"/><polyline points="2510.5,973.5 2525.0,973.5 2545.5,987.4" fill="none" stroke="#8d919b" stroke-width="1.8"/><polyline points="2772.8,1216.8 2787.0,1235.8 2803.0,1235.8" fill="none" stroke="#8d919b" stroke-width="1.8"/><text x="2596.2" y="911.8" text-anchor="end" font-family="Liberation Sans" font-size="24.5" fill="#606878" textLength="118.5" lengthAdjust="spacingAndGlyphs">(10.00%)</text><text x="2503.5" y="980.0" text-anchor="end" font-family="Liberation Sans" font-size="24.5" fill="#606878" textLength="118.5" lengthAdjust="spacingAndGlyphs">(10.00%)</text><text x="2821.5" y="1241.0" text-anchor="start" font-family="Liberation Sans" font-size="24.5" fill="#606878" textLength="118.5" lengthAdjust="spacingAndGlyphs">(80.00%)</text><rect x="2516" y="1334" width="20" height="20" fill="#f1cd90"/><text x="2553.5" y="1352.3" text-anchor="start" font-size="23" fill="#1f2635" >实习</text><rect x="2623" y="1334" width="20" height="20" fill="#948ccd"/><text x="2660.0" y="1352.3" text-anchor="start" font-size="23" fill="#1f2635" >兼职</text><rect x="2730.7" y="1334" width="20" height="20" fill="#4a8ce3"/><text x="2767.4" y="1352.3" text-anchor="start" font-size="23" fill="#1f2635" >全职</text></svg>
<svg class="a" style="left:630px;top:1429px" width="802" height="635" viewBox="630 1429 802 635"><line x1="716" y1="1539.7" x2="1380" y2="1539.7" stroke="#e1e3e7" stroke-width="2" stroke-dasharray="6 4"/><line x1="716" y1="1610.7" x2="1380" y2="1610.7" stroke="#e1e3e7" stroke-width="2" stroke-dasharray="6 4"/><line x1="716" y1="1681.7" x2="1380" y2="1681.7" stroke="#e1e3e7" stroke-width="2" stroke-dasharray="6 4"/><line x1="716" y1="1752.8" x2="1380" y2="1752.8" stroke="#e1e3e7" stroke-width="2" stroke-dasharray="6 4"/><line x1="716" y1="1823.8" x2="1380" y2="1823.8" stroke="#e1e3e7" stroke-width="2" stroke-dasharray="6 4"/><line x1="716" y1="1894.8" x2="1380" y2="1894.8" stroke="#e1e3e7" stroke-width="2" stroke-dasharray="6 4"/><line x1="716" y1="1965.8" x2="1380" y2="1965.8" stroke="#d6d8de" stroke-width="2"/><line x1="775.0" y1="1965.8" x2="775.0" y2="1973.8" stroke="#a9adb6" stroke-width="2"/><line x1="956.6" y1="1965.8" x2="956.6" y2="1973.8" stroke="#a9adb6" stroke-width="2"/><line x1="1138.0" y1="1965.8" x2="1138.0" y2="1973.8" stroke="#a9adb6" stroke-width="2"/><line x1="1319.6" y1="1965.8" x2="1319.6" y2="1973.8" stroke="#a9adb6" stroke-width="2"/><text x="707.3" y="1547.9" text-anchor="end" font-family="Liberation Sans" font-size="26" fill="#121a2b">6</text><text x="707.3" y="1618.9" text-anchor="end" font-family="Liberation Sans" font-size="26" fill="#121a2b">5</text><text x="707.3" y="1689.9" text-anchor="end" font-family="Liberation Sans" font-size="26" fill="#121a2b">4</text><text x="707.3" y="1761.0" text-anchor="end" font-family="Liberation Sans" font-size="26" fill="#121a2b">3</text><text x="707.3" y="1832.0" text-anchor="end" font-family="Liberation Sans" font-size="26" fill="#121a2b">2</text><text x="707.3" y="1903.0" text-anchor="end" font-family="Liberation Sans" font-size="26" fill="#121a2b">1</text><text x="707.3" y="1974.0" text-anchor="end" font-family="Liberation Sans" font-size="26" fill="#121a2b">0</text><defs><linearGradient id="g4" x1="0" y1="1539.7" x2="0" y2="1947.8" gradientUnits="userSpaceOnUse"><stop offset="0" stop-color="#66a6ea" stop-opacity="0.48"/><stop offset="1" stop-color="#66a6ea" stop-opacity="0.02"/></linearGradient></defs><path d="M775.00 1539.70 C835.53 1658.04 896.07 1776.37 956.60 1823.77 C1017.07 1871.11 1077.53 1894.78 1138.00 1894.78 C1198.53 1894.78 1259.07 1894.78 1319.60 1894.78 L1319.60 1947.8 L775.00 1947.8Z" fill="url(#g4)"/><path d="M775.00 1539.70 C835.53 1658.04 896.07 1776.37 956.60 1823.77 C1017.07 1871.11 1077.53 1894.78 1138.00 1894.78 C1198.53 1894.78 1259.07 1894.78 1319.60 1894.78" fill="none" stroke="#66a6ea" stroke-width="2.2"/><circle cx="775.0" cy="1539.7" r="9" fill="#66a6ea"/><text x="775.0" y="1529.7" text-anchor="middle" font-family="Liberation Sans" font-size="25.5" fill="#121a2b">6</text><circle cx="956.6" cy="1823.8" r="9" fill="#66a6ea"/><text x="956.6" y="1813.8" text-anchor="middle" font-family="Liberation Sans" font-size="25.5" fill="#121a2b">2</text><circle cx="1138.0" cy="1894.8" r="9" fill="#66a6ea"/><text x="1138.0" y="1884.8" text-anchor="middle" font-family="Liberation Sans" font-size="25.5" fill="#121a2b">1</text><circle cx="1319.6" cy="1894.8" r="9" fill="#66a6ea"/><text x="1319.6" y="1884.8" text-anchor="middle" font-family="Liberation Sans" font-size="25.5" fill="#121a2b">1</text><text x="775.0" y="2006.3" text-anchor="middle" font-size="24.5" fill="#1f2635" textLength="97" lengthAdjust="spacingAndGlyphs">20-25岁</text><text x="956.6" y="2006.3" text-anchor="middle" font-size="24.5" fill="#1f2635" textLength="97" lengthAdjust="spacingAndGlyphs">25-30岁</text><text x="1138.0" y="2006.3" text-anchor="middle" font-size="24.5" fill="#1f2635" textLength="97" lengthAdjust="spacingAndGlyphs">30-35岁</text><text x="1319.6" y="2006.3" text-anchor="middle" font-size="24.5" fill="#1f2635" textLength="97" lengthAdjust="spacingAndGlyphs">40-50岁</text></svg>
<svg class="a" style="left:1453px;top:1429px" width="801" height="635" viewBox="1453 1429 801 635"><line x1="1537" y1="1539.7" x2="2202" y2="1539.7" stroke="#e1e3e7" stroke-width="2" stroke-dasharray="6 4"/><line x1="1537" y1="1646.2" x2="2202" y2="1646.2" stroke="#e1e3e7" stroke-width="2" stroke-dasharray="6 4"/><line x1="1537" y1="1752.8" x2="2202" y2="1752.8" stroke="#e1e3e7" stroke-width="2" stroke-dasharray="6 4"/><line x1="1537" y1="1859.3" x2="2202" y2="1859.3" stroke="#e1e3e7" stroke-width="2" stroke-dasharray="6 4"/><line x1="1537" y1="1965.8" x2="2202" y2="1965.8" stroke="#d6d8de" stroke-width="2"/><line x1="1597.2" y1="1965.8" x2="1597.2" y2="1973.8" stroke="#a9adb6" stroke-width="2"/><line x1="1869.5" y1="1965.8" x2="1869.5" y2="1973.8" stroke="#a9adb6" stroke-width="2"/><line x1="2141.7" y1="1965.8" x2="2141.7" y2="1973.8" stroke="#a9adb6" stroke-width="2"/><text x="1529.5" y="1547.9" text-anchor="end" font-family="Liberation Sans" font-size="26" fill="#121a2b">4</text><text x="1529.5" y="1654.4" text-anchor="end" font-family="Liberation Sans" font-size="26" fill="#121a2b">3</text><text x="1529.5" y="1761.0" text-anchor="end" font-family="Liberation Sans" font-size="26" fill="#121a2b">2</text><text x="1529.5" y="1867.5" text-anchor="end" font-family="Liberation Sans" font-size="26" fill="#121a2b">1</text><text x="1529.5" y="1974.0" text-anchor="end" font-family="Liberation Sans" font-size="26" fill="#121a2b">0</text><defs><linearGradient id="g5" x1="0" y1="1539.7" x2="0" y2="1947.8" gradientUnits="userSpaceOnUse"><stop offset="0" stop-color="#9078e8" stop-opacity="0.55"/><stop offset="1" stop-color="#9078e8" stop-opacity="0.02"/></linearGradient></defs><path d="M1597.20 1539.70 C1687.97 1646.22 1778.73 1752.75 1869.50 1752.75 C1960.23 1752.75 2050.97 1646.22 2141.70 1539.70 L2141.70 1947.8 L1597.20 1947.8Z" fill="url(#g5)"/><path d="M1597.20 1539.70 C1687.97 1646.22 1778.73 1752.75 1869.50 1752.75 C1960.23 1752.75 2050.97 1646.22 2141.70 1539.70" fill="none" stroke="#9078e8" stroke-width="2.2"/><circle cx="1597.2" cy="1539.7" r="9" fill="#9078e8"/><text x="1597.2" y="1529.7" text-anchor="middle" font-family="Liberation Sans" font-size="25.5" fill="#121a2b">4</text><circle cx="1869.5" cy="1752.8" r="9" fill="#9078e8"/><text x="1869.5" y="1742.8" text-anchor="middle" font-family="Liberation Sans" font-size="25.5" fill="#121a2b">2</text><circle cx="2141.7" cy="1539.7" r="9" fill="#9078e8"/><text x="2141.7" y="1529.7" text-anchor="middle" font-family="Liberation Sans" font-size="25.5" fill="#121a2b">4</text><text x="1597.2" y="2006.3" text-anchor="middle" font-size="24.5" fill="#1f2635">不满1年</text><text x="1869.5" y="2006.3" text-anchor="middle" font-size="24.5" fill="#1f2635" textLength="68" lengthAdjust="spacingAndGlyphs">1-3年</text><text x="2141.7" y="2006.3" text-anchor="middle" font-size="24.5" fill="#1f2635" textLength="82" lengthAdjust="spacingAndGlyphs">5-10年</text></svg>
<svg class="a" style="left:2276px;top:1429px" width="802" height="635" viewBox="2276 1429 802 635"><defs><clipPath id="c6"><rect x="2276" y="1508" width="802" height="560"/></clipPath></defs><g clip-path="url(#c6)"><path d="M2676.60 1519.70 A190 190 0 0 1 2788.28 1555.99 L2732.44 1632.84 A95 95 0 0 0 2676.60 1614.70Z" fill="#99c883" stroke="#fff" stroke-width="2" stroke-linejoin="round"/><path d="M2788.28 1555.99 A190 190 0 0 1 2857.30 1768.41 L2766.95 1739.06 A95 95 0 0 0 2732.44 1632.84Z" fill="#7499e3" stroke="#fff" stroke-width="2" stroke-linejoin="round"/><path d="M2857.30 1768.41 A190 190 0 0 1 2788.28 1863.41 L2732.44 1786.56 A95 95 0 0 0 2766.95 1739.06Z" fill="#e0ae6e" stroke="#fff" stroke-width="2" stroke-linejoin="round"/><path d="M2788.28 1863.41 A190 190 0 0 1 2495.90 1650.99 L2586.25 1680.34 A95 95 0 0 0 2732.44 1786.56Z" fill="#5198e8" stroke="#fff" stroke-width="2" stroke-linejoin="round"/><path d="M2495.90 1650.99 A190 190 0 0 1 2676.60 1519.70 L2676.60 1614.70 A95 95 0 0 0 2586.25 1680.34Z" fill="#b3a7e0" stroke="#fff" stroke-width="2" stroke-linejoin="round"/><polyline points="2736.0,1527.8 2746.0,1497.0" fill="none" stroke="#8d919b" stroke-width="1.8"/><text x="2777.1" y="1509.5" text-anchor="start" font-family="Liberation Sans" font-size="24.5" fill="#606878" textLength="118.5" lengthAdjust="spacingAndGlyphs">(10.00%)</text><polyline points="2536.0,1535.5 2551.8,1535.5 2564.6,1554.6" fill="none" stroke="#8d919b" stroke-width="1.8"/><text x="2528.5" y="1542.0" text-anchor="end" font-family="Liberation Sans" font-size="24.5" fill="#606878" textLength="118.5" lengthAdjust="spacingAndGlyphs">(20.00%)</text><polyline points="2858.5,1650.5 2879.8,1642.8 2896.8,1642.8" fill="none" stroke="#8d919b" stroke-width="1.8"/><text x="2914.2" y="1649.3" text-anchor="start" font-family="Liberation Sans" font-size="24.5" fill="#606878" textLength="118.5" lengthAdjust="spacingAndGlyphs">(20.00%)</text><polyline points="2830.8,1821.7 2850.0,1834.5 2865.7,1834.5" fill="none" stroke="#8d919b" stroke-width="1.8"/><text x="2884.5" y="1841.0" text-anchor="start" font-family="Liberation Sans" font-size="24.5" fill="#606878" textLength="118.5" lengthAdjust="spacingAndGlyphs">(10.00%)</text><polyline points="2536.0,1882.2 2551.8,1882.2 2565.9,1864.3" fill="none" stroke="#8d919b" stroke-width="1.8"/><text x="2528.5" y="1888.7" text-anchor="end" font-family="Liberation Sans" font-size="24.5" fill="#606878" textLength="118.5" lengthAdjust="spacingAndGlyphs">(40.00%)</text></g><rect x="2409" y="1994" width="20" height="20" fill="#b3a7e0"/><text x="2445.5" y="2012.3" text-anchor="start" font-size="23" fill="#1f2635" >初中</text><rect x="2516.7" y="1994" width="20" height="20" fill="#5198e8"/><text x="2553.2" y="2012.3" text-anchor="start" font-size="23" fill="#1f2635" >本科</text><rect x="2623.4" y="1994" width="20" height="20" fill="#e0ae6e"/><text x="2659.9" y="2012.3" text-anchor="start" font-size="23" fill="#1f2635" >硕士</text><rect x="2731" y="1994" width="20" height="20" fill="#7499e3"/><text x="2767.5" y="2012.3" text-anchor="start" font-size="23" fill="#1f2635" >大专</text><rect x="2837" y="1994" width="20" height="20" fill="#99c883"/><text x="2873.5" y="2012.3" text-anchor="start" font-size="23" fill="#1f2635" >博士</text></svg>
<div class="t" style="left:2466px;top:1970px;font-size:60px;color:#fff;text-shadow:-3px 3px 0 #111, -2px 2px 0 #111;letter-spacing:0px">搜狐号@制造业老简</div>
</body></html>
